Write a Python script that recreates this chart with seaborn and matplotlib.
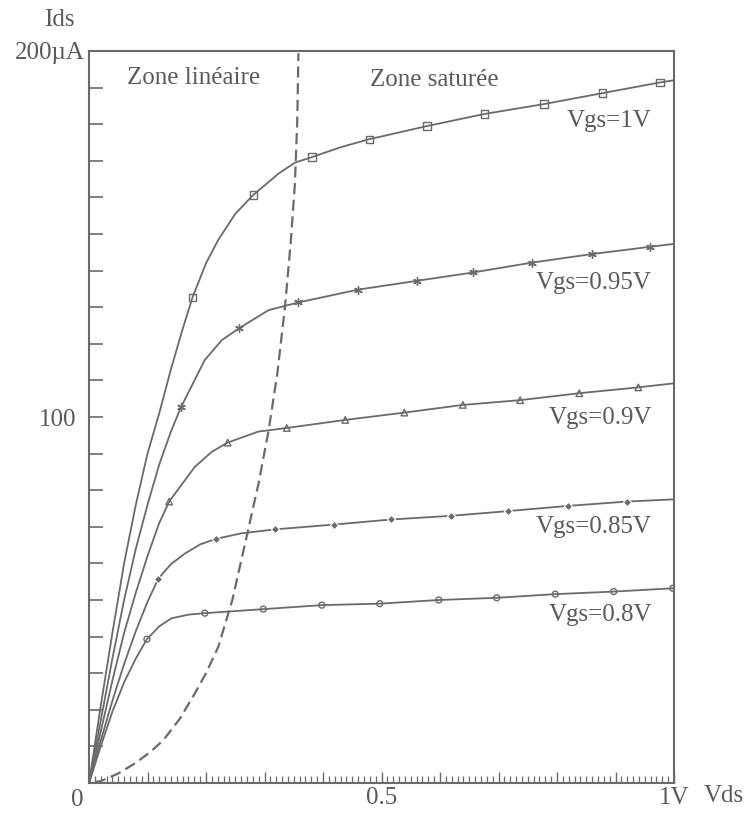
import numpy as np
import seaborn as sns
import matplotlib.pyplot as plt

# values: Vds in V, Ids in uA
# line points (markers are a subset)
v10 = [0, 0.02, 0.04, 0.06, 0.08, 0.10, 0.12, 0.14, 0.16, 0.177, 0.20, 0.221, 0.25, 0.281,
       0.324, 0.352, 0.381, 0.43, 0.479, 0.578, 0.676, 0.778, 0.878, 0.976, 1.0]
i10 = [0, 21, 41, 60, 76, 90, 101, 113, 124, 132.7, 142, 148.4, 155.5, 160.7,
       166.5, 169.5, 171.0, 173.7, 175.9, 179.5, 182.8, 185.5, 188.5, 191.4, 192.0]
m10_v = [0.177, 0.281, 0.381, 0.479, 0.578, 0.676, 0.778, 0.878, 0.976]
m10_i = [132.7, 160.7, 171.0, 175.9, 179.5, 182.8, 185.5, 188.5, 191.4]

v095 = [0, 0.02, 0.04, 0.06, 0.08, 0.10, 0.12, 0.14, 0.157, 0.198, 0.227, 0.257, 0.307,
        0.358, 0.460, 0.560, 0.657, 0.758, 0.859, 0.959, 1.0]
i095 = [0, 17, 34, 50, 64, 76, 87, 96, 102.6, 115.6, 121, 124.3, 129.2,
        131.3, 134.8, 137.2, 139.5, 142.2, 144.5, 146.5, 147.3]
m095_v = [0.157, 0.257, 0.358, 0.460, 0.560, 0.657, 0.758, 0.859, 0.959]
m095_i = [102.6, 124.3, 131.3, 134.8, 137.2, 139.5, 142.2, 144.5, 146.5]

v09 = [0, 0.02, 0.04, 0.06, 0.08, 0.10, 0.12, 0.137, 0.181, 0.21, 0.237, 0.289, 0.338,
       0.438, 0.539, 0.639, 0.737, 0.838, 0.939, 1.0]
i09 = [0, 14, 28, 41, 52, 62, 71, 76.9, 86.4, 90.5, 93.0, 96.0, 97.0,
       99.2, 101.2, 103.3, 104.6, 106.5, 108.1, 109.2]
m09_v = [0.137, 0.237, 0.338, 0.438, 0.539, 0.639, 0.737, 0.838, 0.939]
m09_i = [76.9, 93.0, 97.0, 99.2, 101.2, 103.3, 104.6, 106.5, 108.1]

v085 = [0, 0.02, 0.04, 0.06, 0.08, 0.10, 0.118, 0.14, 0.164, 0.19, 0.217, 0.26, 0.318,
        0.418, 0.517, 0.619, 0.717, 0.818, 0.920, 1.0]
i085 = [0, 11.5, 22.5, 32.5, 41.5, 49.5, 55.7, 59.8, 62.7, 65.2, 66.7, 68.2, 69.3,
        70.6, 72.0, 73.0, 74.3, 75.7, 76.9, 77.5]
m085_v = [0.118, 0.217, 0.318, 0.418, 0.517, 0.619, 0.717, 0.818, 0.920]
m085_i = [55.7, 66.7, 69.3, 70.6, 72.0, 73.0, 74.3, 75.7, 76.9]

v08 = [0, 0.02, 0.04, 0.06, 0.08, 0.099, 0.12, 0.141, 0.17, 0.198, 0.298, 0.398,
       0.497, 0.598, 0.697, 0.797, 0.897, 0.998]
i08 = [0, 10, 19.5, 27.5, 34, 39.3, 42.8, 45.0, 46.0, 46.4, 47.5, 48.6,
       49.0, 50.0, 50.6, 51.6, 52.3, 53.2]
m08_v = [0.099, 0.198, 0.298, 0.398, 0.497, 0.598, 0.697, 0.797, 0.897, 0.998]
m08_i = [39.3, 46.4, 47.5, 48.6, 49.0, 50.0, 50.6, 51.6, 52.3, 53.2]

# boundary between the two zones (dashed)
v_sat = [0.01, 0.02, 0.05, 0.079, 0.105, 0.127, 0.155, 0.181, 0.20, 0.221, 0.245, 0.271,
         0.29, 0.307, 0.322, 0.335, 0.345, 0.352, 0.356, 0.358]
i_sat = [0.3, 0.5, 2.6, 5.4, 8.5, 11.7, 17.5, 24.5, 30, 37.2, 50, 68.4,
         82, 96.3, 112, 130.1, 148, 163.8, 181, 199.4]

curve_labels = ["Vgs=1V", "Vgs=0.95V", "Vgs=0.9V", "Vgs=0.85V", "Vgs=0.8V"]
label_y = [181, 136.6, 99.7, 69.9, 45.9]

sns.set_style("white")
plt.rcParams['font.family'] = ['Liberation Serif', 'DejaVu Serif']
grey = "#6a6a6a"
txt = "#5a5a5a"

fig = plt.figure(figsize=(7.49, 8.19), dpi=100)
ax = fig.add_axes([89 / 749, 36 / 819, 585 / 749, 732 / 819])

curves = [
    (v10, i10, m10_v, m10_i, dict(marker="s", s=28, facecolors="none", edgecolors=grey, linewidths=1.0)),
    (v095, i095, m095_v, m095_i, dict(marker=(6, 2, 0), s=30, color=grey, linewidths=1.0)),
    (v09, i09, m09_v, m09_i, dict(marker="^", s=22, facecolors="none", edgecolors=grey, linewidths=1.0)),
    (v085, i085, m085_v, m085_i, dict(marker="D", s=18, color=grey, linewidths=0.8)),
    (v08, i08, m08_v, m08_i, dict(marker="o", s=18, facecolors="none", edgecolors=grey, linewidths=1.0)),
]

for x, y, mx, my, mstyle in curves:
    sns.lineplot(x=x, y=y, sort=False, color=grey, linewidth=1.3, ax=ax)
    sns.scatterplot(x=mx, y=my, ax=ax, zorder=3, **mstyle)

sns.lineplot(x=v_sat, y=i_sat, sort=False, color=grey, linewidth=1.6, ax=ax,
             linestyle=(0, (5, 2.5)))

for lab, ly in zip(curve_labels, label_y):
    ax.text(0.962, ly, lab, ha="right", va="center", fontsize=18, color=txt)

ax.text(0.178, 192.6, "Zone linéaire", ha="center", va="center", fontsize=18, color=txt)
ax.text(0.59, 192, "Zone saturée", ha="center", va="center", fontsize=18, color=txt)

ax.set_xlim(0, 1)
ax.set_ylim(0, 200)

xt = np.round(np.arange(0, 1.01, 0.1), 2)
ax.set_xticks(xt)
ax.set_xticklabels(["0.5" if abs(t - 0.5) < 1e-6 else ("1V" if t == 1 else "") for t in xt])
ax.set_xticks(np.round(np.arange(0, 1.001, 0.01), 2), minor=True)
yt = np.arange(0, 201, 10)
ax.set_yticks(yt)
ax.set_yticklabels(["100" if t == 100 else "" for t in yt])
ax.set_yticks([], minor=True)

ax.xaxis.set_tick_params(which="minor", bottom=True, top=False, direction="in",
                         length=5, width=0.9, color=grey)
ax.xaxis.set_tick_params(which="major", bottom=True, top=False, direction="in",
                         length=8, width=1.0, color=grey, labelsize=18, labelcolor=txt, pad=3)
ax.yaxis.set_tick_params(which="major", left=True, right=False, direction="in",
                         length=10, width=1.2, color=grey, labelsize=18, labelcolor=txt, pad=9)

for sp in ax.spines.values():
    sp.set_color(grey)
    sp.set_linewidth(1.5)

ax.set_xlabel("")
ax.set_ylabel("")
fig.text(77 / 749, 1 - 800 / 819, "0", ha="center", va="center", fontsize=18, color=txt)
fig.text(75 / 749, 1 - 20 / 819, "Ids", ha="right", va="center", fontsize=18, color=txt)
fig.text(85 / 749, 1 - 53 / 819, "200µA", ha="right", va="center", fontsize=18, color=txt)
fig.text(724 / 749, 1 - 796 / 819, "Vds", ha="center", va="center", fontsize=18, color=txt)

fig.savefig("out.png", dpi=100)
